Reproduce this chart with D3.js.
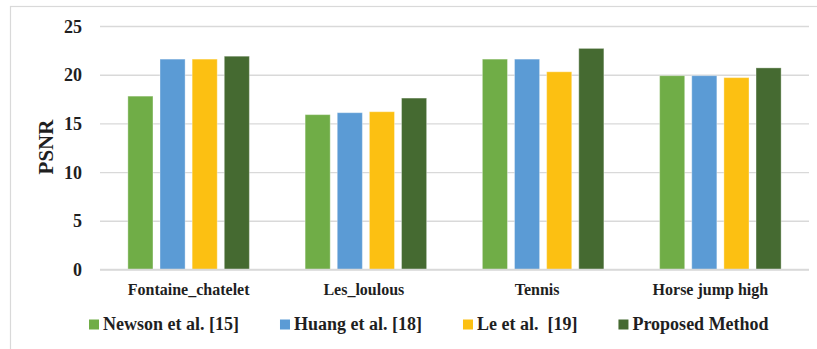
<!DOCTYPE html>
<html>
<head>
<meta charset="utf-8">
<script src="https://cdn.jsdelivr.net/npm/d3@7/dist/d3.min.js"></script>
<style>
  html, body { margin: 0; padding: 0; background: #fff; }
  svg { display: block; }
</style>
</head>
<body>
<svg id="chart" width="817" height="349"></svg>
<script>
// Video sequences (trailing spaces kept as in the source labels)
const categories = ["Fontaine_chatelet", "Les_loulous ", "Tennis   ", "Horse jump high     "];
const seriesNames = ["Newson et al. [15]", "Huang et al. [18]", "Le et al.  [19]", "Proposed Method"];
const newson   = [17.8, 15.9, 21.6, 19.9];
const huang    = [21.6, 16.1, 21.6, 19.9];
const le       = [21.6, 16.2, 20.3, 19.7];
const proposed = [21.9, 17.6, 22.7, 20.7];
const yTicks = [0, 5, 10, 15, 20, 25];
const colors = ["#70AD47", "#5B9BD5", "#FCC012", "#456A31"];

const seriesValues = [newson, huang, le, proposed];
const FONT = "'Liberation Serif', 'Times New Roman', serif";
const INK = "#1f1f1f";

const svg = d3.select("#chart");
const W = 817, H = 349;
const plot = { left: 100, right: 809, top: 26, bottom: 269.5 };

// apply the chart's text style
function textStyle(sel, size) {
  return sel.style("font-family", FONT).style("font-weight", "bold")
    .style("font-size", size + "px").style("fill", INK).style("white-space", "pre");
}

// chart frame
svg.append("rect")
  .attr("x", 10.5).attr("y", 6.5)
  .attr("width", W + 20).attr("height", H + 20)
  .attr("fill", "none").attr("stroke", "#d9d9d9").attr("stroke-width", 1.2);

const x0 = d3.scaleBand()
  .domain(d3.range(categories.length))
  .range([plot.left, plot.right])
  .paddingInner(0.3145)
  .paddingOuter(0.3145 / 2);

const x1 = d3.scaleBand()
  .domain(d3.range(seriesNames.length))
  .range([0, x0.bandwidth()])
  .paddingInner(0.219)
  .paddingOuter(0);

const y = d3.scaleLinear().domain([0, 25]).range([plot.bottom, plot.top]);

// gridlines and value axis
const yAxis = d3.axisLeft(y).tickValues(yTicks).tickSize(-(plot.right - plot.left)).tickPadding(18);
const gy = svg.append("g").attr("transform", `translate(${plot.left},0)`).call(yAxis);
gy.select(".domain").remove();
gy.selectAll(".tick line").attr("stroke", "#d9d9d9").attr("stroke-width", 1.4);
textStyle(gy.selectAll(".tick text"), 18).attr("dy", "0.34em");

// bars
const groups = svg.append("g").selectAll("g")
  .data(categories.map((c, i) => ({ c, i })))
  .join("g")
  .attr("transform", d => `translate(${x0(d.i)},0)`);

groups.selectAll("rect")
  .data(d => seriesValues.map((vals, s) => ({ s, v: vals[d.i] })))
  .join("rect")
  .attr("x", d => x1(d.s))
  .attr("width", x1.bandwidth())
  .attr("y", d => y(d.v))
  .attr("height", d => y(0) - y(d.v))
  .attr("fill", d => colors[d.s])
  .attr("stroke", "#ffffff").attr("stroke-opacity", 0.35).attr("stroke-width", 1);

// category axis line
svg.append("line")
  .attr("x1", plot.left).attr("x2", plot.right)
  .attr("y1", y(0)).attr("y2", y(0))
  .attr("stroke", "#d9d9d9").attr("stroke-width", 1.6);

// category labels
const xAxis = d3.axisBottom(x0).tickSize(0).tickPadding(0).tickFormat(i => categories[i]);
const gx = svg.append("g").attr("transform", `translate(0,${y(0)})`).call(xAxis);
gx.select(".domain").remove();
textStyle(gx.selectAll(".tick text"), 16).attr("y", 25.5).attr("dy", 0);

// value axis title
textStyle(svg.append("text"), 21)
  .attr("transform", `translate(53,147) rotate(-90)`)
  .attr("text-anchor", "middle")
  .text("PSNR");

// legend
const legend = svg.append("g").attr("transform", "translate(89,329.5)");
let lx = 0;
seriesNames.forEach((name, s) => {
  const item = legend.append("g").attr("transform", `translate(${lx},0)`);
  item.append("rect")
    .attr("x", 0).attr("y", -10).attr("width", 10).attr("height", 10)
    .attr("fill", colors[s]);
  const t = textStyle(item.append("text"), 18)
    .attr("x", 14).attr("y", 0)
    .text(name);
  lx += 14 + t.node().getComputedTextLength() + 41;
});
</script>
</body>
</html>
